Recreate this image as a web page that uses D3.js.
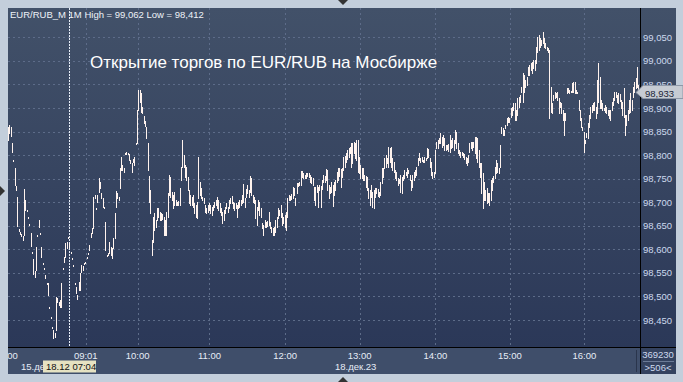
<!DOCTYPE html>
<html lang="ru">
<head>
  <meta charset="UTF-8">
  <title>EUR/RUB_M 1M</title>
  <style>
    body { margin: 0; background: #c3cedb; }
    svg { display: block; font-family: "Liberation Sans", Arial, sans-serif; }
    .yaxis text { fill: #cdd9ee; font-size: 9.5px; }
    .xaxis text { fill: #e6ecf6; font-size: 9.5px; }
    .bars rect, .grid line { shape-rendering: crispEdges; }
  </style>
</head>
<body>
<script src="https://cdn.jsdelivr.net/npm/d3@7/dist/d3.min.js"></script>
<script>
// 1-minute bars, 15 Dec tail + 18 Dec session
var highs = [
  98.860, 98.864, 98.860, 98.826, 98.790, 98.773, 98.735, 98.711, 98.643, 98.637,
  98.633, 98.628, 98.728, 98.705, 98.684, 98.669, 98.654, 98.635, 98.595, 98.580,
  98.554, 98.605, 98.631, 98.662, 98.635, 98.605, 98.571, 98.561, 98.546, 98.529,
  98.529, 98.478, 98.457, 98.435, 98.429, 98.423, 98.499, 98.497, 98.488, 98.493,
  98.529, 98.561, 98.584, 98.614, 98.616,
  98.626, 98.614, 98.595, 98.582, 98.567, 98.529, 98.520, 98.503, 98.531, 98.550,
  98.567, 98.565, 98.571, 98.573, 98.584, 98.592, 98.609, 98.635, 98.645, 98.711,
  98.715, 98.688, 98.715, 98.752, 98.743, 98.720, 98.709, 98.690, 98.658, 98.588,
  98.592, 98.616, 98.605, 98.603, 98.624, 98.677, 98.724, 98.720, 98.711, 98.773,
  98.796, 98.779, 98.773, 98.805, 98.807, 98.805, 98.802, 98.790, 98.783, 98.792,
  98.796, 98.826, 98.896, 98.938,
  98.938, 98.932, 98.902, 98.883, 98.872, 98.860, 98.826, 98.756, 98.726, 98.620,
  98.669, 98.677, 98.662, 98.688, 98.688, 98.679, 98.677, 98.675, 98.669, 98.662,
  98.679, 98.720, 98.758, 98.754, 98.722, 98.715, 98.722, 98.705, 98.701, 98.703,
  98.730, 98.775, 98.832, 98.800, 98.779, 98.775, 98.754, 98.726, 98.715, 98.711,
  98.715, 98.698, 98.694, 98.701, 98.796, 98.743, 98.730, 98.711, 98.709, 98.694,
  98.688, 98.694, 98.698, 98.694, 98.690, 98.694, 98.701, 98.705, 98.711, 98.705,
  98.698, 98.688, 98.679, 98.684, 98.690, 98.698, 98.690, 98.705, 98.709, 98.713,
  98.701, 98.698, 98.698, 98.694, 98.701, 98.705, 98.705, 98.715, 98.739, 98.709,
  98.728, 98.737, 98.726, 98.756, 98.752, 98.715, 98.711, 98.705, 98.690, 98.705,
  98.701, 98.688, 98.656, 98.652, 98.662, 98.658, 98.660, 98.679, 98.658, 98.648,
  98.645, 98.648, 98.662, 98.669, 98.688, 98.684, 98.694, 98.677, 98.669, 98.673,
  98.679, 98.709, 98.715, 98.713, 98.718, 98.732, 98.730, 98.709, 98.741, 98.741,
  98.743, 98.766, 98.766, 98.762, 98.758, 98.762, 98.762, 98.762, 98.758, 98.754,
  98.752, 98.732, 98.732, 98.737, 98.732, 98.737, 98.735, 98.747, 98.758, 98.756,
  98.771, 98.769, 98.737, 98.732, 98.743, 98.737, 98.743, 98.747, 98.764, 98.773,
  98.773, 98.771, 98.773, 98.796, 98.798, 98.805, 98.811, 98.815, 98.817, 98.826,
  98.826, 98.828, 98.826, 98.832, 98.832, 98.796, 98.779, 98.773, 98.773, 98.758,
  98.756, 98.754, 98.730, 98.726, 98.737, 98.722, 98.726, 98.730, 98.730, 98.728,
  98.722, 98.743, 98.773, 98.773, 98.794, 98.800, 98.794, 98.817, 98.815, 98.817,
  98.794, 98.785, 98.769, 98.764, 98.752, 98.749, 98.758, 98.754, 98.758, 98.769,
  98.764, 98.773, 98.769, 98.758, 98.747, 98.758, 98.764, 98.769, 98.775, 98.794,
  98.805, 98.794, 98.796, 98.790, 98.796, 98.794, 98.815, 98.813, 98.794, 98.785,
  98.764, 98.764, 98.811, 98.828, 98.832, 98.836, 98.847, 98.838, 98.843, 98.836,
  98.821, 98.821, 98.824, 98.843, 98.832, 98.836, 98.832, 98.853, 98.849, 98.826,
  98.811, 98.807, 98.807, 98.805, 98.802, 98.796, 98.794, 98.800, 98.826, 98.828,
  98.828, 98.828, 98.838, 98.838, 98.836, 98.811, 98.783, 98.783, 98.762, 98.743,
  98.726, 98.730, 98.720, 98.720, 98.747, 98.752, 98.756, 98.775, 98.790, 98.783,
  98.773, 98.821, 98.860, 98.858, 98.853, 98.864, 98.879, 98.881, 98.879, 98.900,
  98.902, 98.911, 98.911, 98.896, 98.921, 98.923, 98.928, 98.945, 98.974, 98.970,
  98.959, 98.966, 98.987, 98.991, 98.996, 98.998, 99.002, 99.002, 99.030, 99.051,
  99.055, 99.049, 99.044, 99.062, 99.049, 99.038, 99.030, 99.027, 99.023, 98.945,
  98.911, 98.928, 98.934, 98.932, 98.934, 98.921, 98.913, 98.911, 98.896, 98.889,
  98.889, 98.942, 98.942, 98.938, 98.936, 98.953, 98.955, 98.955, 98.938, 98.934,
  98.917, 98.896, 98.879, 98.860, 98.849, 98.832, 98.847, 98.868, 98.885, 98.902,
  98.906, 98.911, 98.913, 98.902, 98.959, 98.996, 98.966, 98.917, 98.911, 98.900,
  98.906, 98.902, 98.896, 98.896, 98.896, 98.913, 98.921, 98.934, 98.934, 98.928,
  98.932, 98.930, 98.917, 98.913, 98.942, 98.885, 98.885, 98.896, 98.917, 98.932,
  98.917, 98.945, 98.955, 98.964, 98.987, 98.949
];
var lows = [
  98.832, 98.847, 98.841, 98.807, 98.788, 98.737, 98.726, 98.650, 98.639, 98.633,
  98.628, 98.620, 98.631, 98.684, 98.682, 98.667, 98.652, 98.607, 98.592, 98.548,
  98.541, 98.556, 98.628, 98.648, 98.633, 98.584, 98.569, 98.558, 98.539, 98.527,
  98.503, 98.476, 98.454, 98.433, 98.412, 98.414, 98.429, 98.488, 98.482, 98.478,
  98.478, 98.558, 98.573, 98.584, 98.603,
  98.624, 98.605, 98.592, 98.580, 98.565, 98.527, 98.508, 98.495, 98.514, 98.514,
  98.552, 98.556, 98.569, 98.571, 98.582, 98.590, 98.599, 98.626, 98.635, 98.645,
  98.709, 98.686, 98.701, 98.722, 98.730, 98.709, 98.690, 98.688, 98.599, 98.586,
  98.588, 98.592, 98.588, 98.582, 98.603, 98.624, 98.690, 98.709, 98.705, 98.730,
  98.769, 98.769, 98.764, 98.802, 98.802, 98.802, 98.790, 98.783, 98.764, 98.785,
  98.779, 98.824, 98.826, 98.896,
  98.913, 98.892, 98.889, 98.868, 98.862, 98.836, 98.769, 98.701, 98.677, 98.588,
  98.616, 98.641, 98.648, 98.662, 98.669, 98.662, 98.662, 98.665, 98.631, 98.631,
  98.631, 98.669, 98.715, 98.711, 98.705, 98.688, 98.694, 98.694, 98.694, 98.694,
  98.694, 98.747, 98.775, 98.775, 98.754, 98.747, 98.726, 98.698, 98.694, 98.694,
  98.690, 98.677, 98.669, 98.667, 98.709, 98.715, 98.709, 98.705, 98.698, 98.679,
  98.677, 98.679, 98.684, 98.677, 98.673, 98.684, 98.690, 98.694, 98.688, 98.684,
  98.679, 98.673, 98.656, 98.662, 98.677, 98.688, 98.679, 98.688, 98.698, 98.698,
  98.688, 98.684, 98.688, 98.669, 98.688, 98.690, 98.694, 98.698, 98.701, 98.690,
  98.711, 98.720, 98.711, 98.722, 98.715, 98.701, 98.698, 98.667, 98.652, 98.684,
  98.673, 98.669, 98.645, 98.631, 98.648, 98.648, 98.650, 98.652, 98.645, 98.637,
  98.631, 98.631, 98.637, 98.648, 98.667, 98.673, 98.669, 98.652, 98.656, 98.648,
  98.641, 98.669, 98.705, 98.705, 98.707, 98.709, 98.715, 98.694, 98.720, 98.735,
  98.737, 98.737, 98.754, 98.752, 98.752, 98.752, 98.756, 98.754, 98.743, 98.741,
  98.737, 98.705, 98.694, 98.722, 98.690, 98.726, 98.690, 98.728, 98.743, 98.743,
  98.747, 98.726, 98.709, 98.720, 98.722, 98.692, 98.715, 98.726, 98.743, 98.747,
  98.756, 98.732, 98.754, 98.769, 98.775, 98.785, 98.792, 98.796, 98.805, 98.775,
  98.783, 98.805, 98.794, 98.790, 98.764, 98.762, 98.752, 98.752, 98.747, 98.747,
  98.732, 98.726, 98.709, 98.694, 98.711, 98.690, 98.688, 98.711, 98.720, 98.713,
  98.711, 98.715, 98.741, 98.754, 98.773, 98.775, 98.783, 98.775, 98.785, 98.775,
  98.769, 98.764, 98.752, 98.747, 98.737, 98.741, 98.722, 98.720, 98.747, 98.752,
  98.758, 98.754, 98.762, 98.747, 98.726, 98.732, 98.747, 98.754, 98.758, 98.779,
  98.790, 98.785, 98.788, 98.785, 98.785, 98.790, 98.794, 98.796, 98.775, 98.758,
  98.752, 98.754, 98.762, 98.815, 98.815, 98.826, 98.826, 98.817, 98.821, 98.811,
  98.811, 98.813, 98.809, 98.807, 98.815, 98.817, 98.811, 98.826, 98.815, 98.805,
  98.800, 98.796, 98.800, 98.796, 98.792, 98.783, 98.779, 98.785, 98.807, 98.815,
  98.811, 98.817, 98.805, 98.794, 98.785, 98.775, 98.754, 98.720, 98.688, 98.705,
  98.705, 98.698, 98.701, 98.694, 98.705, 98.726, 98.743, 98.752, 98.762, 98.764,
  98.762, 98.775, 98.847, 98.843, 98.843, 98.858, 98.864, 98.870, 98.870, 98.881,
  98.885, 98.896, 98.875, 98.875, 98.885, 98.902, 98.913, 98.934, 98.913, 98.934,
  98.945, 98.949, 98.970, 98.970, 98.981, 98.974, 98.985, 98.981, 98.996, 99.019,
  99.023, 99.030, 99.034, 99.038, 99.030, 99.027, 99.023, 99.019, 98.879, 98.892,
  98.889, 98.917, 98.921, 98.923, 98.917, 98.889, 98.902, 98.889, 98.875, 98.843,
  98.875, 98.932, 98.934, 98.932, 98.934, 98.934, 98.934, 98.932, 98.932, 98.932,
  98.896, 98.875, 98.860, 98.853, 98.807, 98.826, 98.838, 98.836, 98.860, 98.879,
  98.892, 98.896, 98.896, 98.879, 98.889, 98.913, 98.900, 98.900, 98.896, 98.896,
  98.892, 98.889, 98.885, 98.879, 98.875, 98.896, 98.906, 98.917, 98.923, 98.913,
  98.911, 98.915, 98.900, 98.885, 98.881, 98.843, 98.864, 98.875, 98.889, 98.892,
  98.896, 98.923, 98.934, 98.942, 98.945, 98.933
];

var yTicks = [98.45, 98.50, 98.55, 98.60, 98.65, 98.70, 98.75, 98.80, 98.85, 98.90, 98.95, 99.00, 99.05];
var hourBars = [58, 97, 151, 208, 264, 321, 377, 433];   // bar index where each hour starts
var hourLabels = ["09:01", "10:00", "11:00", "12:00", "13:00", "14:00", "15:00", "16:00"];
var dayStart = 45;            // first bar of 18 Dec
var lastPrice = 98.933;
var title = "Открытие торгов по EUR/RUB на Мосбирже";
var volumeText = "369230", countText = ">506<";

var width = 683, height = 382;
var pL = 8, pR = 640, pT = 8, pB = 347;

var ru = d3.formatLocale({decimal: ",", thousands: " ", grouping: [3], currency: ["", ""]});
var fmt = ru.format(".3f");

var svg = d3.select("body").append("svg").attr("width", width).attr("height", height);

var defs = svg.append("defs");
var grad = defs.append("linearGradient").attr("id", "bg").attr("x1", 0).attr("y1", 0).attr("x2", 0).attr("y2", 1);
grad.append("stop").attr("offset", "0%").attr("stop-color", "#425169");
grad.append("stop").attr("offset", "100%").attr("stop-color", "#2b3858");
defs.append("clipPath").attr("id", "plotClip").append("rect")
  .attr("x", pL).attr("y", pT).attr("width", pR - pL).attr("height", pB - pT);
defs.append("clipPath").attr("id", "xClip").append("rect")
  .attr("x", pL).attr("y", pB).attr("width", pR - pL).attr("height", 27);

// frame + panels
svg.append("rect").attr("width", width).attr("height", height).attr("fill", "#c3cedb");
svg.append("rect").attr("x", pL).attr("y", pT).attr("width", 668).attr("height", pB - pT)
  .attr("fill", "url(#bg)");
svg.append("rect").attr("x", pL).attr("y", pB).attr("width", pR - pL).attr("height", 27)
  .attr("fill", "#3f4e6a");
svg.append("rect").attr("x", pR).attr("y", pB).attr("width", 36).attr("height", 27)
  .attr("fill", "#34425f");

var x = d3.scaleLinear().domain([0, highs.length]).range([pL, pR - 0.5]);
var y = d3.scaleLinear().domain([98.45, 99.05]).range([320, 37.3]);

// grid
svg.append("g").attr("class", "grid").selectAll("line").data(yTicks).join("line")
  .attr("x1", pL).attr("x2", pR)
  .attr("y1", d => Math.round(y(d)) + 0.5).attr("y2", d => Math.round(y(d)) + 0.5)
  .attr("stroke", "#5d6c89").attr("stroke-dasharray", "2,3");
svg.append("g").attr("class", "grid").selectAll("line").data(hourBars).join("line")
  .attr("x1", d => Math.round(x(d + 0.5)) + 0.5).attr("x2", d => Math.round(x(d + 0.5)) + 0.5)
  .attr("y1", pT).attr("y2", pB)
  .attr("stroke", "#5d6c89").attr("stroke-dasharray", "2,3");

// day separator
var sepX = Math.round(x(dayStart)) + 1.5;
svg.append("line").attr("x1", sepX).attr("x2", sepX).attr("y1", pT).attr("y2", pB)
  .attr("stroke", "#e8eef8").attr("stroke-dasharray", "2,1");

// bars (high-low)
svg.append("g").attr("class", "bars").attr("clip-path", "url(#plotClip)")
  .selectAll("rect").data(highs).join("rect")
  .attr("x", (d, i) => Math.floor(x(i + 0.5)))
  .attr("y", d => Math.round(y(d)))
  .attr("width", 1)
  .attr("height", (d, i) => Math.max(1, Math.round(y(lows[i])) - Math.round(y(d)) + 1))
  .attr("fill", "#fff3ee");

// header + title
svg.append("text").attr("x", 10).attr("y", 18).attr("fill", "#eef2f8").attr("font-size", "9.5px")
  .text("EUR/RUB_M 1M High = " + fmt(d3.max(highs)) + " Low = " + fmt(d3.min(lows)));
svg.append("text").attr("x", 90).attr("y", 68).attr("fill", "#ffffff").attr("font-size", "17px")
  .text(title);

// borders
svg.append("line").attr("x1", pL).attr("x2", 676).attr("y1", pB + 0.5).attr("y2", pB + 0.5)
  .attr("stroke", "#000");
svg.append("line").attr("x1", pR + 0.5).attr("x2", pR + 0.5).attr("y1", pT).attr("y2", 374)
  .attr("stroke", "#000");
svg.append("line").attr("x1", 636.5).attr("x2", 636.5).attr("y1", 350).attr("y2", 372)
  .attr("stroke", "#2a354c");

// y axis
var yAxis = d3.axisRight(y).tickValues(yTicks).tickFormat(fmt).tickSize(0).tickPadding(2);
var yg = svg.append("g").attr("class", "yaxis").attr("transform", "translate(" + (pR + 1) + ",0)").call(yAxis);
yg.select(".domain").remove();

// x axis labels
var xg = svg.append("g").attr("class", "xaxis").attr("clip-path", "url(#xClip)");
xg.selectAll("text.h").data(hourBars).join("text").attr("class", "h")
  .attr("x", d => x(d + 0.5)).attr("y", 359).attr("text-anchor", "middle")
  .text((d, i) => hourLabels[i]);
xg.append("text").attr("x", x(0) - 2).attr("y", 359).attr("text-anchor", "middle").text("18:00");
xg.append("text").attr("x", 21).attr("y", 370).text("15.дек");
xg.append("text").attr("x", x(hourBars[4] + 0.5) - 4).attr("y", 370).attr("text-anchor", "middle").text("18.дек.23");
xg.append("rect").attr("x", 43).attr("y", 360.5).attr("width", 53).attr("height", 12).attr("fill", "#e6e2c2");
xg.append("text").attr("x", 46).attr("y", 370).style("fill", "#111").text("18.12 07:04");

// bottom-right box
svg.append("text").attr("x", 658).attr("y", 358).attr("text-anchor", "middle")
  .attr("fill", "#cdd9ee").attr("font-size", "9.5px").text(volumeText);
svg.append("line").attr("x1", 643).attr("x2", 674).attr("y1", 361.5).attr("y2", 361.5).attr("stroke", "#6b7a96");
svg.append("text").attr("x", 658).attr("y", 371).attr("text-anchor", "middle")
  .attr("fill", "#cdd9ee").attr("font-size", "9.5px").text(countText);

// last price tag
var ty = Math.round(y(lastPrice)) + 0.5;
svg.append("path")
  .attr("d", "M636," + ty + "L643," + (ty - 7) + "L683," + (ty - 7) + "L683," + (ty + 6) + "L643," + (ty + 6) + "Z")
  .attr("fill", "#c6cbd3").attr("stroke", "#8e98a8");
svg.append("text").attr("x", 645).attr("y", ty + 4).attr("fill", "#1a2436").attr("font-size", "9.5px")
  .text(fmt(lastPrice));

// scroll markers
svg.append("path").attr("d", "M338,0L348,0L343,5Z").attr("fill", "#333");
svg.append("path").attr("d", "M338,382L348,382L343,377Z").attr("fill", "#333");
svg.append("path").attr("d", "M0,186L0,196L5,191Z").attr("fill", "#333");
</script>
</body>
</html>
